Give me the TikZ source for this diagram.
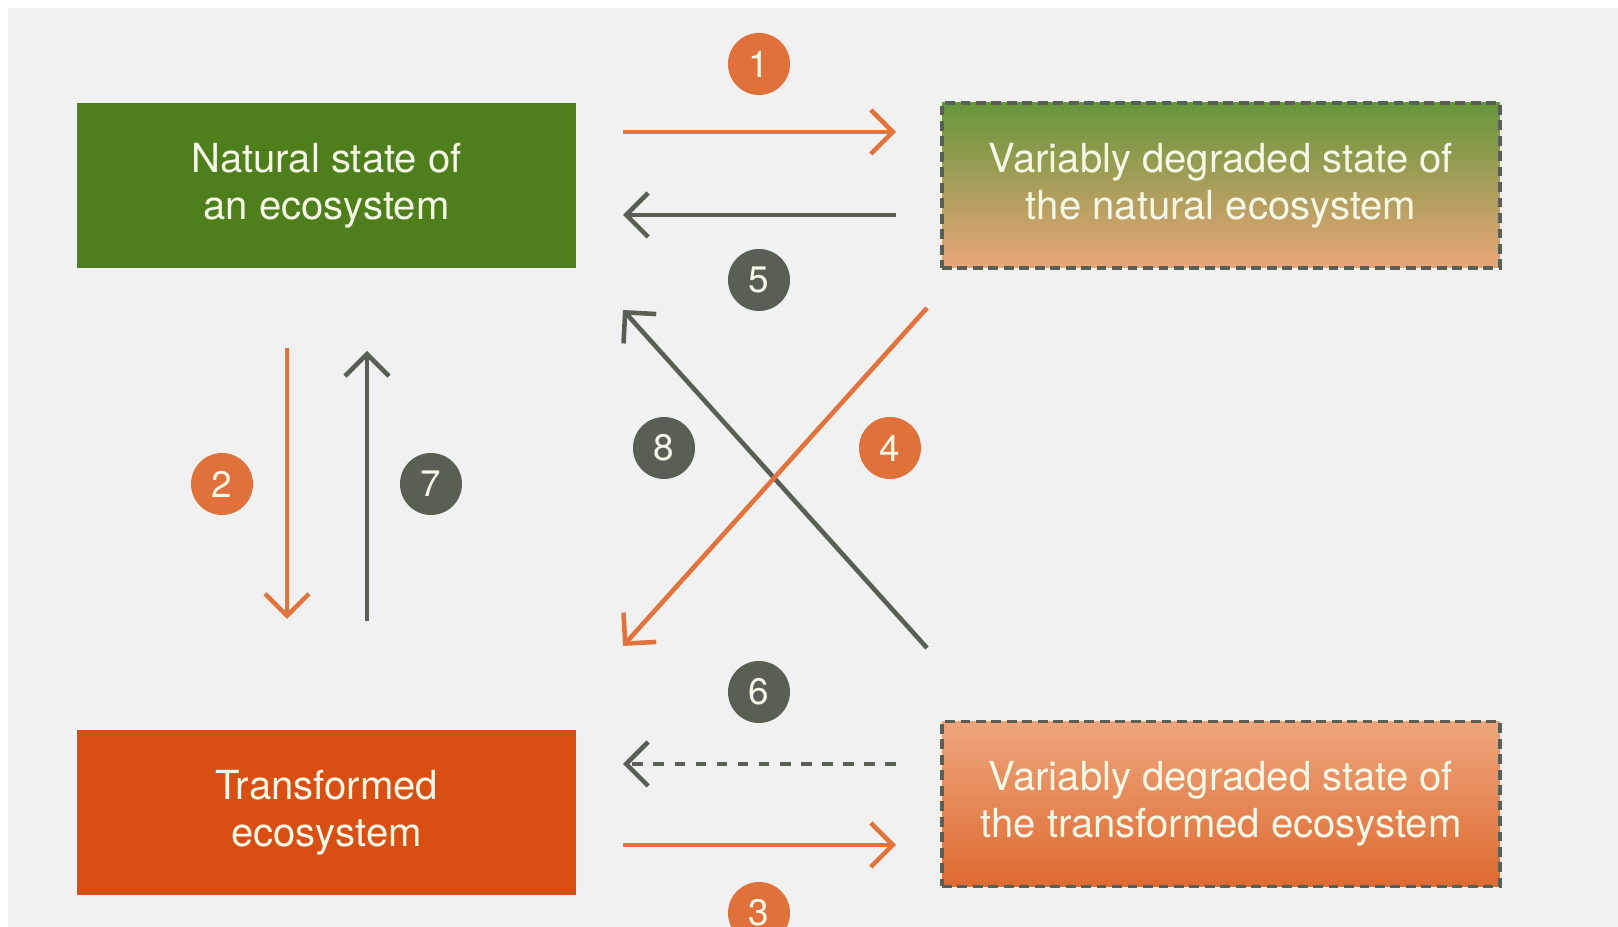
\documentclass[tikz,border=0pt]{standalone}
\usepackage{fontspec}
\setmainfont{TeX Gyre Heros}
\usepackage{xcolor}
\usepackage{tikz}
\usetikzlibrary{arrows.meta,calc,positioning,shadings}
\definecolor{ecogreen}{HTML}{4E7F1C}
\definecolor{ecored}{HTML}{D84E13}
\definecolor{ecoorange}{HTML}{E2733C}
\definecolor{ecogray}{HTML}{5A5F55}
\definecolor{ecobg}{HTML}{F1F1F1}
\definecolor{ecotext}{HTML}{F5F8E6}
\definecolor{degtop}{HTML}{66963A}
\definecolor{degbottom}{HTML}{E9A679}
\definecolor{trtop}{HTML}{EDA57C}
\definecolor{trbottom}{HTML}{DE6A30}

\begin{document}
\begin{tikzpicture}[
	statebox/.style={minimum width=4.99cm,minimum height=1.65cm,align=center,text=ecotext,inner sep=0pt,font=\fontsize{11.4}{13.4}\selectfont},
	degbox/.style={statebox,minimum width=5.58cm,draw=ecogray,dash pattern=on 2.8pt off 1.6pt,line width=1pt},
	num/.style={circle,minimum size=0.62cm,inner sep=0pt,text=ecotext,font=\fontsize{10.5}{12}\selectfont},
	flow/.style={line width=1.3pt,-{Straight Barb[length=2.2mm,width=4.4mm]}},
	]
	\useasboundingbox (0,0) rectangle (16.18,9.27);
	\fill[ecobg] (0.08,0) rectangle (16.18,9.19);
	\node[statebox,fill=ecogreen]	(nat)	at (3.265,7.415)	{Natural state of\\an ecosystem};
	\node[degbox,top color=degtop,bottom color=degbottom]	(degnat)	at (12.21,7.415)	{Variably degraded state of\\the natural ecosystem};
	\node[statebox,fill=ecored]	(trans)	at (3.265,1.14)	{Transformed\\ecosystem};
	\node[degbox,top color=trtop,bottom color=trbottom]	(degtrans)	at (12.21,1.23)	{Variably degraded state of\\the transformed ecosystem};
	\coordinate (a1s) at (6.23,7.95);	\coordinate (a1e) at (8.96,7.95);
	\coordinate (a5s) at (8.96,7.12);	\coordinate (a5e) at (6.23,7.12);
	\coordinate (a2s) at (2.87,5.79);	\coordinate (a2e) at (2.87,3.08);
	\coordinate (a7s) at (3.67,3.06);	\coordinate (a7e) at (3.67,5.76);
	\coordinate (a4s) at (9.27,6.19);	\coordinate (a4e) at (6.23,2.81);
	\coordinate (a8s) at (9.27,2.79);	\coordinate (a8e) at (6.23,6.17);
	\coordinate (a6s) at (8.96,1.63);	\coordinate (a6e) at (6.23,1.63);
	\coordinate (a3s) at (6.23,0.82);	\coordinate (a3e) at (8.96,0.82);
	\draw[flow,ecoorange]	(a1s) -- (a1e);
	\draw[flow,ecogray]	(a5s) -- (a5e);
	\draw[flow,ecoorange]	(a2s) -- (a2e);
	\draw[flow,ecogray]	(a7s) -- (a7e);
	\draw[flow,ecogray]	(a8s) -- (a8e);
	\draw[flow,ecoorange]	(a4s) -- (a4e);
	\draw[flow,ecogray,dash pattern=on 3pt off 3pt]	(a6s) -- (a6e);
	\draw[flow,ecoorange]	(a3s) -- (a3e);
	\node[num,fill=ecoorange!95!ecored]	(c1)	at (7.59,8.63)	{1};
	\node[num,fill=ecoorange!95!ecored]	(c2)	at (2.22,4.43)	{2};
	\node[num,fill=ecoorange!95!ecored]	(c3)	at (7.59,0.14)	{3};
	\node[num,fill=ecoorange!95!ecored]	(c4)	at (8.90,4.79)	{4};
	\node[num,fill=ecogray]	(c5)	at (7.59,6.47)	{5};
	\node[num,fill=ecogray]	(c6)	at (7.59,2.35)	{6};
	\node[num,fill=ecogray]	(c7)	at (4.31,4.43)	{7};
	\node[num,fill=ecogray]	(c8)	at (6.64,4.79)	{8};
\end{tikzpicture}
\end{document}
